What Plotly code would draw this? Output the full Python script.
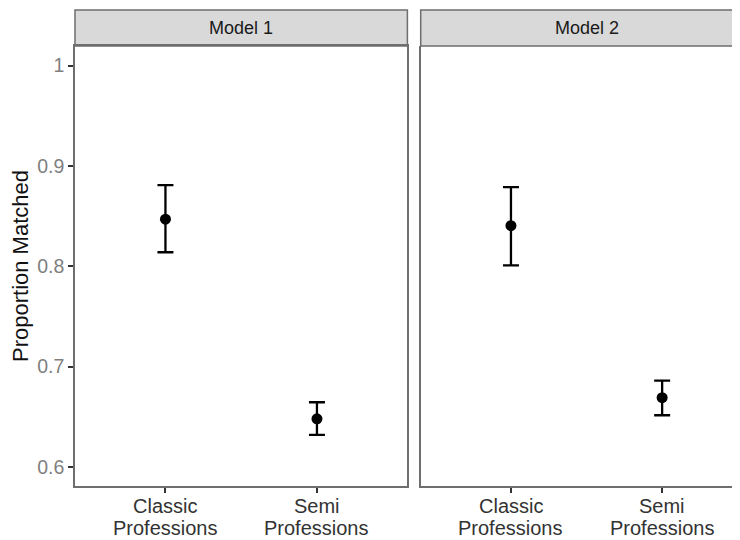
import plotly.graph_objects as go

categories = ["Classic Professions", "Semi Professions"]
cat_pos = [1, 2]
models = ["Model 1", "Model 2"]
estimates = {"Model 1": [0.847, 0.648], "Model 2": [0.8405, 0.669]}
lower = {"Model 1": [0.814, 0.632], "Model 2": [0.801, 0.6515]}
upper = {"Model 1": [0.881, 0.6645], "Model 2": [0.879, 0.686]}
y_ticks = [0.6, 0.7, 0.8, 0.9, 1.0]
y_tick_labels = ["0.6", "0.7", "0.8", "0.9", "1"]

# page has an 8px body margin; figure sized to fill the rest of the 740x540 window
W, H = 732, 532
ml, mr, mt, mb = 67, 0, 2, 54
plot_w = W - ml - mr
plot_h = H - mt - mb
panel_top = 38
ydom_top = (H - mb - panel_top) / plot_h
xdom1 = [0, (399.4 - ml) / plot_w]
xdom2 = [(412.7 - ml) / plot_w, 1]

font_family = "Liberation Sans, Arial, Helvetica, sans-serif"
border = "#6E6E6E"

fig = go.Figure()
for i, m in enumerate(models):
    est = estimates[m]
    plus = [u - e for u, e in zip(upper[m], est)]
    minus = [e - l for e, l in zip(est, lower[m])]
    fig.add_trace(go.Scatter(
        x=cat_pos, y=est, mode="markers",
        marker=dict(color="black", size=11),
        error_y=dict(type="data", symmetric=False, array=plus, arrayminus=minus,
                     color="black", thickness=2.3, width=8),
        xaxis="x" if i == 0 else "x2", yaxis="y" if i == 0 else "y2",
        showlegend=False, hoverinfo="skip",
    ))

yrange = [0.581, 1.0196]
common_x = dict(tickmode="array", tickvals=cat_pos, showticklabels=False,
                showgrid=False, zeroline=False, ticks="outside", ticklen=5,
                tickwidth=1.5, tickcolor="#333333",
                showline=True, linecolor=border, linewidth=1.5)
common_y = dict(range=yrange, tickmode="array", tickvals=y_ticks, ticktext=y_tick_labels,
                showgrid=False, zeroline=False, domain=[0, ydom_top],
                showline=True, linecolor=border, linewidth=1.5)

fig.update_layout(
    width=W, height=H,
    margin=dict(l=ml, r=mr, t=mt, b=mb),
    paper_bgcolor="white", plot_bgcolor="white",
    font=dict(family=font_family),
    xaxis=dict(domain=xdom1, range=[0.403, 2.597], mirror=True, **common_x),
    xaxis2=dict(domain=xdom2, range=[0.403, 2.515], anchor="y2", **common_x),
    yaxis=dict(anchor="x", mirror=True, ticks="outside", ticklen=5, tickwidth=1.5,
               tickcolor="#333333",
               tickfont=dict(size=19.5, color="#7F7F7F", family=font_family),
               title=dict(text="Proportion Matched", standoff=5,
                          font=dict(size=22, color="#111111", family=font_family)),
               **common_y),
    yaxis2=dict(anchor="x2", matches="y", showticklabels=False, ticks="", **common_y),
)

# x tick labels, two lines each
for i, m in enumerate(models):
    xref = "x" if i == 0 else "x2"
    for pos, cat in zip(cat_pos, categories):
        for j, word in enumerate(cat.split(" ")):
            fig.add_annotation(xref=xref, yref="paper", x=pos, y=0,
                               xanchor="center", yanchor="middle",
                               yshift=-20 - 22 * j, text=word, showarrow=False,
                               font=dict(size=20, color="#333333", family=font_family))

# facet strips
for i, m in enumerate(models):
    dom = xdom1 if i == 0 else xdom2
    x1 = dom[1] if i == 0 else 1.01
    fig.add_shape(type="rect", xref="paper", yref="paper",
                  x0=dom[0], x1=x1, y0=ydom_top, y1=1,
                  fillcolor="#D9D9D9", line=dict(color=border, width=1.5), layer="below")
    cx = (xdom1[0] + xdom1[1]) / 2 if i == 0 else dom[0] + (xdom1[1] - xdom1[0]) / 2
    fig.add_annotation(xref="paper", yref="paper", x=cx, y=(ydom_top + 1) / 2,
                       xanchor="center", yanchor="middle", text=m, showarrow=False,
                       font=dict(size=18, color="#1A1A1A", family=font_family))

fig.write_html("out.html")
